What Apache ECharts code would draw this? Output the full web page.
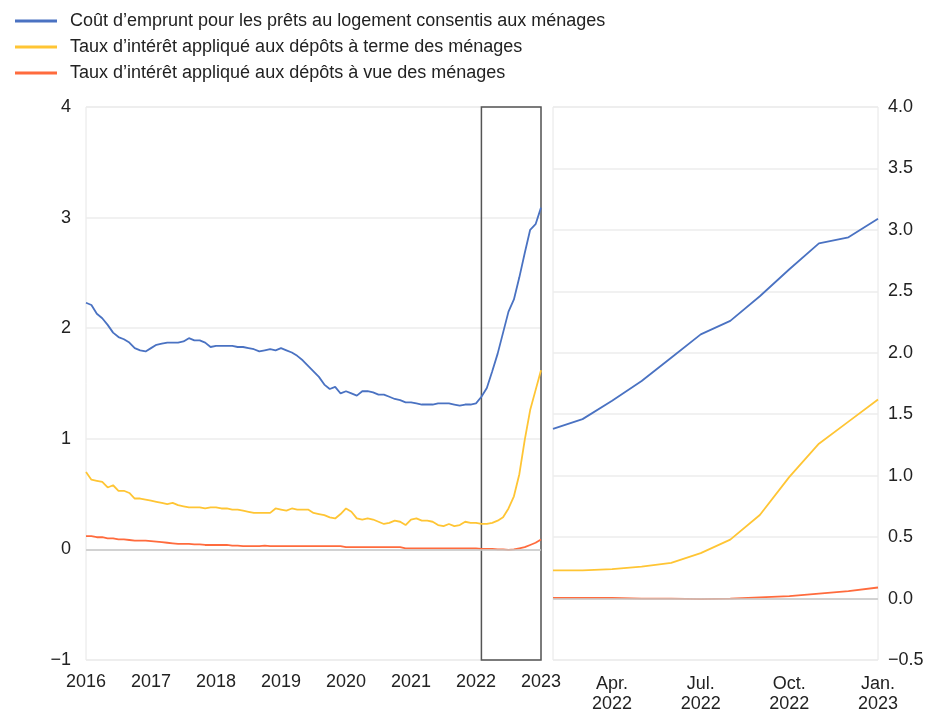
<!DOCTYPE html>
<html lang="fr">
<head>
    <meta charset="UTF-8">
    <title>Taux des ménages</title>
    <script src="https://cdn.jsdelivr.net/npm/echarts@6.0.0/dist/echarts.min.js"></script>
    <style>
        html, body { margin: 0; padding: 0; background: #fff; }
        #chart { width: 933px; height: 709px; }
    </style>
</head>
<body>
    <div id="chart"></div>
    <script>
        // mois de janvier 2016 à janvier 2023
        const months = [];
        for (let y = 2016; y <= 2023; y++) {
            for (let m = 1; m <= 12; m++) {
                if (y === 2023 && m > 1) break;
                months.push(y + '-' + (m < 10 ? '0' + m : m));
            }
        }

        const seriesNames = [
            'Coût d\u2019emprunt pour les prêts au logement consentis aux ménages',
            'Taux d\u2019intérêt appliqué aux dépôts à terme des ménages',
            'Taux d\u2019intérêt appliqué aux dépôts à vue des ménages'
        ];

        const pretsLogement = [
            2.23, 2.21, 2.13, 2.09, 2.03, 1.96, 1.92, 1.90, 1.87, 1.82, 1.80, 1.79,
            1.82, 1.85, 1.86, 1.87, 1.87, 1.87, 1.88, 1.91, 1.89, 1.89, 1.87, 1.83,
            1.84, 1.84, 1.84, 1.84, 1.83, 1.83, 1.82, 1.81, 1.79, 1.80, 1.81, 1.80,
            1.82, 1.80, 1.78, 1.75, 1.71, 1.66, 1.61, 1.56, 1.49, 1.45, 1.47, 1.41,
            1.43, 1.41, 1.39, 1.43, 1.43, 1.42, 1.40, 1.40, 1.38, 1.36, 1.35, 1.33,
            1.33, 1.32, 1.31, 1.31, 1.31, 1.32, 1.32, 1.32, 1.31, 1.30, 1.31, 1.31,
            1.32, 1.38, 1.46, 1.61, 1.77, 1.96, 2.15, 2.26, 2.46, 2.68, 2.89, 2.94,
            3.09
        ];

        const depotsTerme = [
            0.70, 0.63, 0.62, 0.61, 0.56, 0.58, 0.53, 0.53, 0.51, 0.46, 0.46, 0.45,
            0.44, 0.43, 0.42, 0.41, 0.42, 0.40, 0.39, 0.38, 0.38, 0.38, 0.37, 0.38,
            0.38, 0.37, 0.37, 0.36, 0.36, 0.35, 0.34, 0.33, 0.33, 0.33, 0.33, 0.37,
            0.36, 0.35, 0.37, 0.36, 0.36, 0.36, 0.33, 0.32, 0.31, 0.29, 0.28, 0.32,
            0.37, 0.34, 0.28, 0.27, 0.28, 0.27, 0.25, 0.23, 0.24, 0.26, 0.25, 0.22,
            0.27, 0.28, 0.26, 0.26, 0.25, 0.22, 0.21, 0.23, 0.21, 0.22, 0.25, 0.24,
            0.24, 0.23, 0.23, 0.24, 0.26, 0.29, 0.37, 0.48, 0.68, 0.99, 1.26, 1.44,
            1.62
        ];

        const depotsVue = [
            0.12, 0.12, 0.11, 0.11, 0.10, 0.10, 0.09, 0.09, 0.085, 0.08, 0.08, 0.08,
            0.075, 0.07, 0.065, 0.06, 0.055, 0.05, 0.05, 0.05, 0.045, 0.045, 0.04, 0.04,
            0.04, 0.04, 0.04, 0.035, 0.035, 0.03, 0.03, 0.03, 0.03, 0.035, 0.03, 0.03,
            0.03, 0.03, 0.03, 0.03, 0.03, 0.03, 0.03, 0.03, 0.03, 0.03, 0.03, 0.03,
            0.02, 0.02, 0.02, 0.02, 0.02, 0.02, 0.02, 0.02, 0.02, 0.02, 0.02, 0.01,
            0.01, 0.01, 0.01, 0.01, 0.01, 0.01, 0.01, 0.01, 0.01, 0.01, 0.01, 0.01,
            0.01, 0.005, 0.005, 0.005, 0.00, 0.00, -0.005, 0.00, 0.01, 0.02, 0.04, 0.06,
            0.09
        ];

        // le panneau de droite reprend la période encadrée (février 2022 - janvier 2023)
        const zoomStart = months.indexOf('2022-02');
        const zoomMonths = months.slice(zoomStart);
        const moisCourts = ['Jan.', 'Feb.', 'Mar.', 'Apr.', 'May', 'Jun.', 'Jul.', 'Aug.', 'Sep.', 'Oct.', 'Nov.', 'Dec.'];

        const colors = ['#4a72c2', '#ffc534', '#ff6b3d'];
        const font = 'Liberation Sans, Arial, sans-serif';

        const chart = echarts.init(document.getElementById('chart'));

        function line(name, data, idx, color, extra) {
            return Object.assign({
                name: name,
                type: 'line',
                xAxisIndex: idx,
                yAxisIndex: idx,
                data: data,
                showSymbol: false,
                symbol: 'none',
                lineStyle: { color: color, width: 1.8 },
                itemStyle: { color: color },
                animation: false,
                z: 3
            }, extra || {});
        }

        function minus(s) { return String(s).replace('-', '\u2212'); }

        const zeroLine = {
            silent: true,
            symbol: 'none',
            label: { show: false },
            lineStyle: { color: '#c8c8c8', type: 'solid', width: 1.5 },
            data: [{ yAxis: 0 }]
        };

        chart.setOption({
            animation: false,
            color: colors,
            legend: {
                left: 10,
                top: 7,
                orient: 'vertical',
                itemWidth: 42,
                itemHeight: 3,
                itemGap: 8,
                icon: 'rect',
                data: seriesNames,
                textStyle: { fontFamily: font, fontSize: 18, color: '#222', padding: [0, 0, 0, 8] }
            },
            grid: [
                { left: 86, top: 107, width: 455, height: 553, outerBoundsMode: 'none', show: true, borderColor: '#e6e6e6', borderWidth: 1 },
                { left: 553, top: 107, width: 325, height: 553, outerBoundsMode: 'none', show: true, borderColor: '#e6e6e6', borderWidth: 1 }
            ],
            xAxis: [
                {
                    type: 'category',
                    gridIndex: 0,
                    data: months,
                    boundaryGap: false,
                    axisLine: { show: false },
                    axisTick: { show: false },
                    axisLabel: {
                        interval: function (i) { return i % 12 === 0; },
                        formatter: function (v) { return v.slice(0, 4); },
                        fontFamily: font, fontSize: 18, color: '#222', margin: 13
                    },
                    splitLine: { show: false }
                },
                {
                    type: 'category',
                    gridIndex: 1,
                    data: zoomMonths,
                    boundaryGap: false,
                    axisLine: { show: false },
                    axisTick: { show: false },
                    axisLabel: {
                        interval: function (i) { return i % 3 === 2; },
                        formatter: function (v) {
                            return moisCourts[parseInt(v.slice(5), 10) - 1] + '\n' + v.slice(0, 4);
                        },
                        fontFamily: font, fontSize: 18, color: '#222', margin: 14, lineHeight: 20
                    },
                    splitLine: { show: false }
                }
            ],
            yAxis: [
                {
                    type: 'value',
                    gridIndex: 0,
                    min: -1,
                    max: 4,
                    interval: 1,
                    axisLine: { show: false },
                    axisTick: { show: false },
                    axisLabel: { formatter: minus, fontFamily: font, fontSize: 18, color: '#222', margin: 15 },
                    splitLine: { lineStyle: { color: '#ececec', width: 1.5 } }
                },
                {
                    type: 'value',
                    gridIndex: 1,
                    position: 'right',
                    min: -0.5,
                    max: 4,
                    interval: 0.5,
                    axisLine: { show: false },
                    axisTick: { show: false },
                    axisLabel: {
                        formatter: function (v) { return minus(v.toFixed(1)); },
                        fontFamily: font, fontSize: 18, color: '#222', margin: 10
                    },
                    splitLine: { lineStyle: { color: '#ececec', width: 1.5 } }
                }
            ],
            series: [
                line(seriesNames[0], pretsLogement, 0, colors[0], {
                    markArea: {
                        silent: true,
                        itemStyle: { color: 'rgba(0,0,0,0)', borderColor: '#555', borderWidth: 1.5 },
                        data: [[{ xAxis: '2022-02', yAxis: 4 }, { xAxis: '2023-01', yAxis: -1 }]]
                    }
                }),
                line(seriesNames[1], depotsTerme, 0, colors[1]),
                line(seriesNames[2], depotsVue, 0, colors[2], { markLine: zeroLine, z: 4 }),
                line(seriesNames[0], pretsLogement.slice(zoomStart), 1, colors[0]),
                line(seriesNames[1], depotsTerme.slice(zoomStart), 1, colors[1]),
                line(seriesNames[2], depotsVue.slice(zoomStart), 1, colors[2], { markLine: zeroLine, z: 4 })
            ]
        });
    </script>
</body>
</html>
